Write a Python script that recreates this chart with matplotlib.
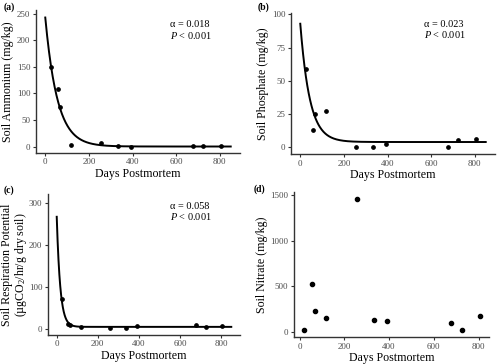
import matplotlib
matplotlib.use('Agg')
import matplotlib.pyplot as plt
import numpy as np

plt.rcParams['font.family'] = ['Liberation Serif', 'DejaVu Serif']
plt.rcParams['mathtext.fontset'] = 'custom'
plt.rcParams['mathtext.rm'] = 'Liberation Serif'
plt.rcParams['mathtext.it'] = 'Liberation Serif:italic'

# DATA
days_a = [24, 57, 67, 116, 257, 335, 391, 676, 725, 807]
ammonium = [149, 108, 74, 2, 6, 1, 0, 0.6, 0.6, 0.3]
days_b = [24, 57, 67, 116, 257, 335, 391, 676, 725, 807]
phosphate = [59, 13.3, 24.9, 27.4, 0, 0, 2.6, 0, 5.6, 6.2]
days_c = [24, 57, 67, 116, 257, 335, 391, 676, 725, 807]
respiration = [71.5, 13, 11, 5.4, 3.8, 3.8, 7, 10, 5.4, 7]
days_d = [19, 57, 67, 120, 257, 335, 391, 678, 725, 807]
nitrate = [22, 528, 224, 150, 1452, 132, 121, 92, 15, 172]

# exponential decay fits: amplitude, alpha, asymptote
fit_a = (243, 0.018, 0.0)
fit_b = (89, 0.023, 4.0)
fit_c = (261, 0.058, 6.0)

grey = '#4d4d4d'
t = np.linspace(0, 850, 400)

fig = plt.figure(figsize=(5, 3.64), dpi=100)

def style(ax):
    for s in ['top', 'right']:
        ax.spines[s].set_visible(False)
    for s in ['left', 'bottom']:
        ax.spines[s].set_color('#333333')
        ax.spines[s].set_linewidth(1.0)
    ax.tick_params(colors='#333333', labelcolor=grey, labelsize=6.5, length=2.5, width=0.8, pad=1.5)
    ax.set_xlabel('Days Postmortem', fontsize=8.6, labelpad=1)
    ax.set_xticks([0, 200, 400, 600, 800])

def decay_panel(rect, days, vals, fit, ylabel, yticks, ylim, alpha_txt, txt_x, txt_y, pad=2):
    ax = fig.add_axes(rect)
    style(ax)
    amp, a, c = fit
    ax.plot(t, amp * np.exp(-a * t) + c, color='black', lw=1.4, zorder=2)
    ax.plot(days, vals, 'o', color='black', ms=2.4, zorder=3)
    ax.set_xlim(-42.5, 892.5)
    ax.set_ylim(*ylim)
    ax.set_yticks(yticks)
    ax.set_ylabel(ylabel, fontsize=8.6, labelpad=pad, linespacing=0.95)
    ax.text(txt_x, txt_y, 'α = ' + alpha_txt, transform=ax.transAxes, fontsize=7.4, va='center')
    ax.text(txt_x, txt_y - 0.075, r'$P$ < 0.001', transform=ax.transAxes, fontsize=7.4, va='center')
    return ax

decay_panel([0.072, 0.580, 0.408, 0.393], days_a, ammonium, fit_a,
            'Soil Ammonium (mg/kg)', [0, 50, 100, 150, 200, 250], (-12, 257.5),
            '0.018', 0.657, 0.895)
decay_panel([0.582, 0.577, 0.408, 0.387], days_b, phosphate, fit_b,
            'Soil Phosphate (mg/kg)', [0, 25, 50, 75, 100], (-5, 101),
            '0.023', 0.652, 0.92)
decay_panel([0.096, 0.080, 0.384, 0.387], days_c, respiration, fit_c,
            'Soil Respiration Potential\n(µgCO$_2$/hr/g dry soil)', [0, 100, 200, 300], (-13, 321),
            '0.058', 0.635, 0.913, pad=0)

ax = fig.add_axes([0.588, 0.074, 0.39, 0.398])
style(ax)
ax.plot(days_d, nitrate, 'o', color='black', ms=3)
ax.set_xlim(-24.6, 846.6)
ax.set_ylim(-57, 1529)
ax.set_yticks([0, 500, 1000, 1500])
ax.set_ylabel('Soil Nitrate (mg/kg)', fontsize=8.6, labelpad=2)

for lbl, x, y in [('(a)', 0.008, 0.98), ('(b)', 0.516, 0.98), ('(c)', 0.008, 0.478), ('(d)', 0.508, 0.48)]:
    fig.text(x, y, lbl, fontsize=7, fontweight='bold', va='center')

fig.savefig('out.png', dpi=100)
